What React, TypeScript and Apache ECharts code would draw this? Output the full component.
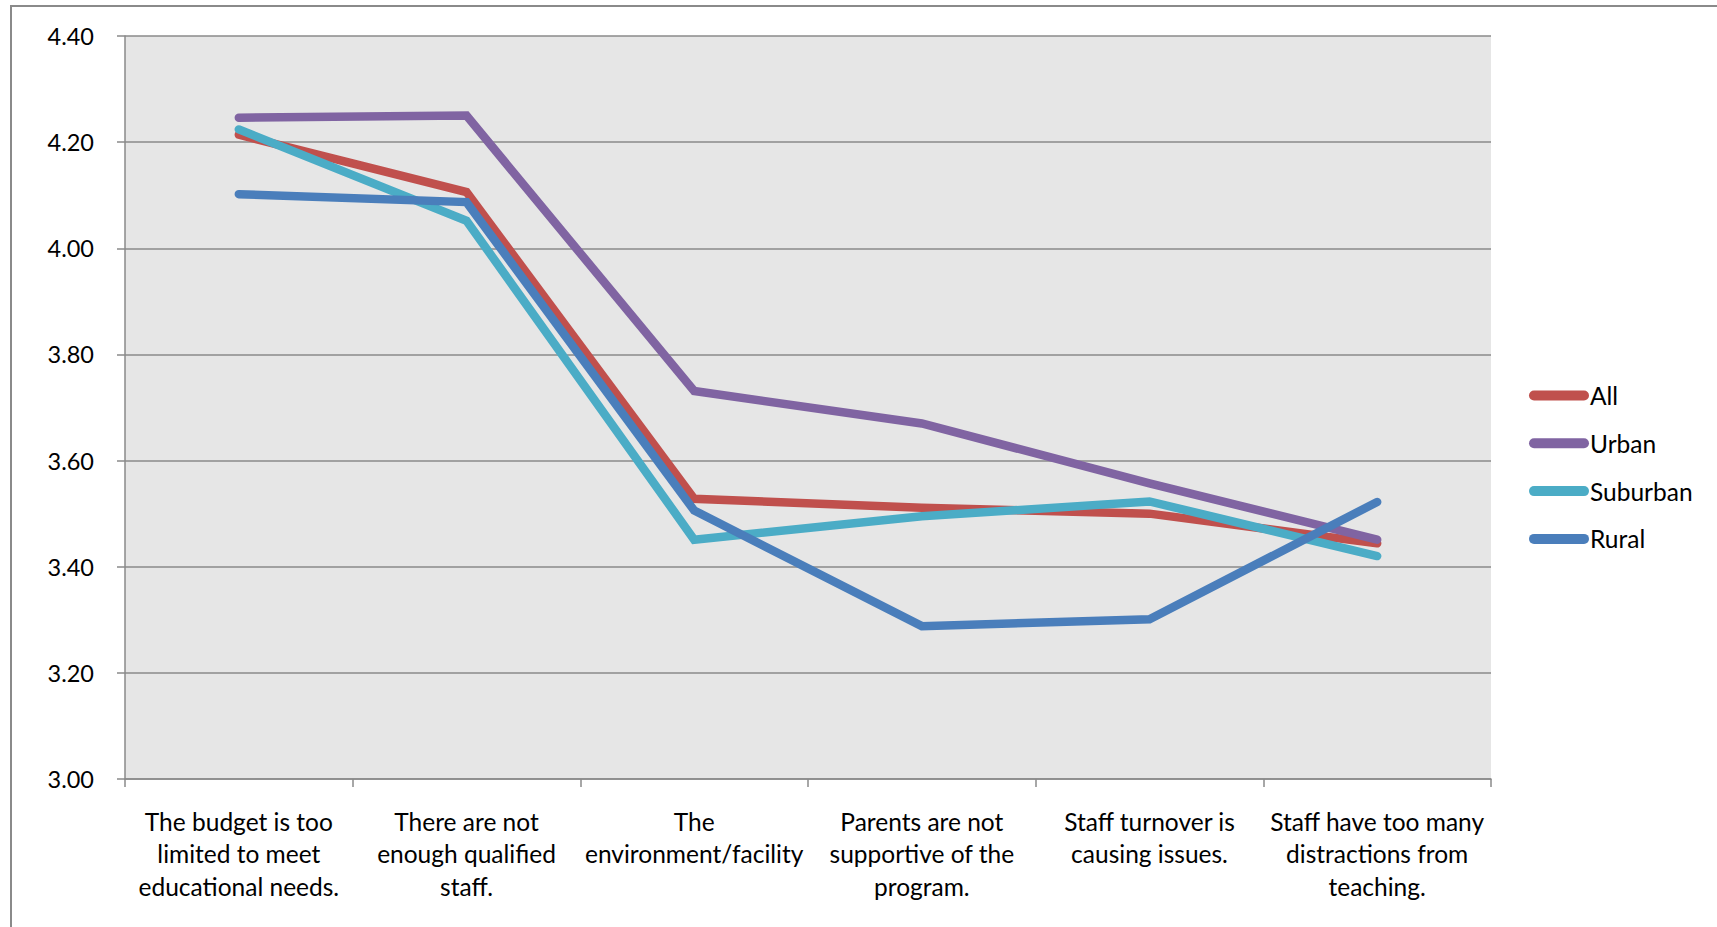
import React, { useEffect, useRef } from "react";
import * as echarts from "echarts";

const categories = [
  "The budget is too\nlimited to meet\neducational needs.",
  "There are not\nenough qualified\nstaff.",
  "The\nenvironment/facility",
  "Parents are not\nsupportive of the\nprogram.",
  "Staff turnover is\ncausing issues.",
  "Staff have too many\ndistractions from\nteaching.",
];

const allValues = [4.214, 4.106, 3.528, 3.511, 3.5, 3.444];
const urbanValues = [4.246, 4.25, 3.731, 3.67, 3.557, 3.451];
const suburbanValues = [4.224, 4.052, 3.451, 3.495, 3.523, 3.42];
const ruralValues = [4.102, 4.087, 3.506, 3.288, 3.301, 3.522];

const seriesNames = ["All", "Urban", "Suburban", "Rural"];
const seriesColors = ["#C0504D", "#8064A2", "#4BACC6", "#4A7EBB"];
const yTicks = { min: 3, max: 4.4, interval: 0.2 };

const FONT = "Lato";

export default function App() {
  const ref = useRef<HTMLDivElement>(null);
  useEffect(() => {
    if (!ref.current) return;
    const chart = echarts.init(ref.current, null, { renderer: "svg" });
    const data = [allValues, urbanValues, suburbanValues, ruralValues];
    chart.setOption({
      animation: false,
      backgroundColor: "#ffffff",
      graphic: [
        {
          type: "rect",
          shape: { x: 11, y: 6, width: 1800, height: 1000 },
          style: { fill: "none", stroke: "#8a8a8a", lineWidth: 2 },
          silent: true,
          z: -1,
        },
      ],
      grid: {
        left: 125,
        top: 36,
        width: 1366,
        height: 743,
        show: true,
        backgroundColor: "#e6e6e6",
        borderWidth: 0,
      },
      legend: {
        orient: "vertical",
        left: 1524,
        top: 378,
        itemWidth: 60,
        itemHeight: 10,
        itemGap: 22.8,
        icon: "path://M5,0 L55,0 A5,5 0 0 1 55,10 L5,10 A5,5 0 0 1 5,0 Z",
        textStyle: {
          fontFamily: FONT,
          fontSize: 24.5,
          color: "#000",
          lineHeight: 24,
          padding: [0, 0, 0, -4],
        },
        data: seriesNames,
      },
      xAxis: {
        type: "category",
        data: categories,
        boundaryGap: true,
        axisLine: { show: true, lineStyle: { color: "#8a8a8a", width: 1.5 } },
        axisTick: { show: true, length: 8, lineStyle: { color: "#8a8a8a", width: 1.5 } },
        axisLabel: {
          interval: 0,
          margin: 26,
          fontFamily: FONT,
          fontSize: 24.5,
          lineHeight: 32.5,
          color: "#000",
          align: "center",
        },
        splitLine: { show: false },
      },
      yAxis: {
        type: "value",
        min: yTicks.min,
        max: yTicks.max,
        interval: yTicks.interval,
        axisLine: { show: true, lineStyle: { color: "#8a8a8a", width: 1.5 } },
        axisTick: { show: true, length: 8, lineStyle: { color: "#8a8a8a", width: 1.5 } },
        axisLabel: {
          margin: 31,
          fontFamily: FONT,
          fontSize: 23.5,
          color: "#000",
          formatter: (v: number) => v.toFixed(2),
        },
        splitLine: { show: true, lineStyle: { color: "#8a8a8a", width: 1.5 } },
      },
      series: seriesNames.map((name, i) => ({
        name,
        type: "line",
        data: data[i],
        showSymbol: false,
        symbol: "none",
        color: seriesColors[i],
        lineStyle: { width: 8.5, color: seriesColors[i], cap: "round", join: "miter" },
        z: 2 + i,
      })),
    });
    return () => chart.dispose();
  }, []);
  return (
    <div
      ref={ref}
      style={{ position: "absolute", left: 0, top: 0, width: 1717, height: 927 }}
    />
  );
}
